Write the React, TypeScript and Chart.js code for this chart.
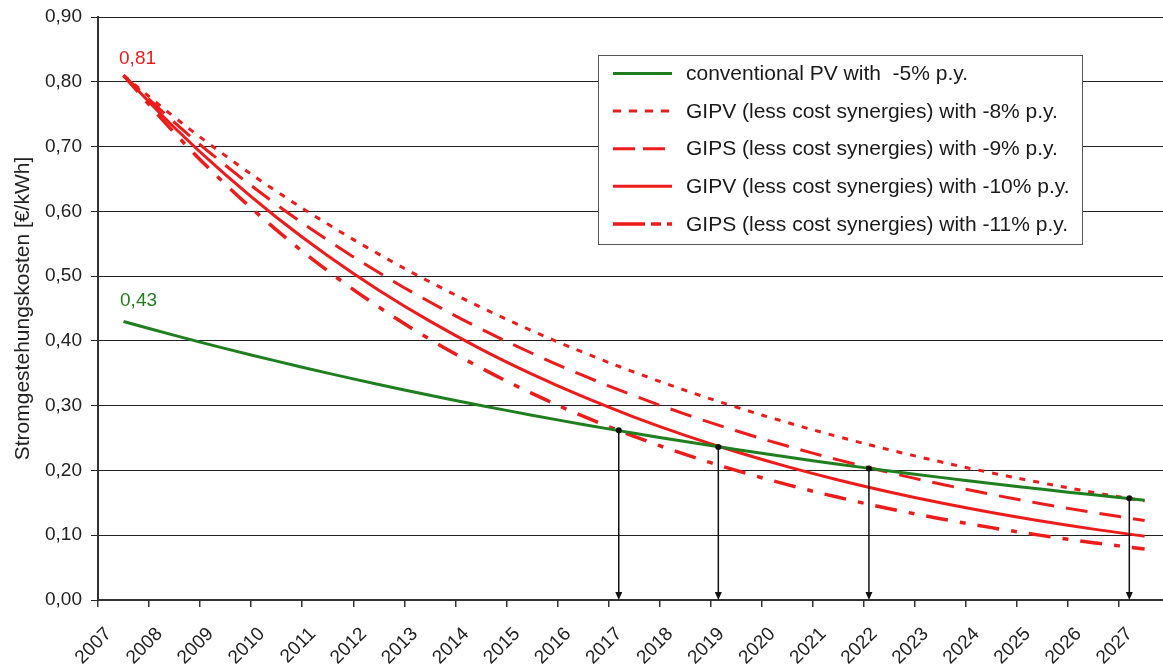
import React, { useEffect, useRef } from "react";
import { Chart, registerables } from "chart.js";

Chart.register(...registerables);

// ---------- data ----------
const years = [
  2007, 2008, 2009, 2010, 2011, 2012, 2013, 2014, 2015, 2016, 2017,
  2018, 2019, 2020, 2021, 2022, 2023, 2024, 2025, 2026, 2027,
];
const conventionalPV = [
  0.43, 0.4085, 0.3881, 0.3687, 0.3502, 0.3327, 0.3161, 0.3003, 0.2853, 0.271, 0.2575,
  0.2446, 0.2324, 0.2207, 0.2097, 0.1992, 0.1893, 0.1798, 0.1708, 0.1623, 0.1541,
];
const gipv8 = [
  0.81, 0.7452, 0.6856, 0.6307, 0.5803, 0.5339, 0.4911, 0.4519, 0.4157, 0.3824, 0.3519,
  0.3237, 0.2978, 0.274, 0.2521, 0.2319, 0.2134, 0.1963, 0.1806, 0.1661, 0.1528,
];
const gips9 = [
  0.81, 0.7371, 0.6708, 0.6104, 0.5555, 0.5055, 0.46, 0.4186, 0.3809, 0.3466, 0.3154,
  0.287, 0.2612, 0.2377, 0.2163, 0.1968, 0.1791, 0.163, 0.1483, 0.135, 0.1228,
];
const gipv10 = [
  0.81, 0.729, 0.6561, 0.5905, 0.5314, 0.4783, 0.4305, 0.3874, 0.3487, 0.3138, 0.2824,
  0.2542, 0.2288, 0.2059, 0.1853, 0.1668, 0.1501, 0.1351, 0.1216, 0.1094, 0.0985,
];
const gips11 = [
  0.81, 0.7209, 0.6416, 0.571, 0.5082, 0.4523, 0.4026, 0.3583, 0.3189, 0.2838, 0.2526,
  0.2248, 0.2001, 0.1781, 0.1585, 0.141, 0.1255, 0.1117, 0.0994, 0.0885, 0.0788,
];
const seriesLabels = [
  "conventional PV with  -5% p.y.",
  "GIPV (less cost synergies) with -8% p.y.",
  "GIPS (less cost synergies) with -9% p.y.",
  "GIPV (less cost synergies) with -10% p.y.",
  "GIPS (less cost synergies) with -11% p.y.",
];
const yAxisTitle = "Stromgestehungskosten [€/kWh]";
const yMin = 0;
const yMax = 0.9;
const yStep = 0.1;
// break-even points (intersection with conventional PV)
const breakEvenYears = [2016.7, 2018.65, 2021.6, 2026.7];
const breakEvenValues = [0.262, 0.236, 0.203, 0.157];

// ---------- styles ----------
const GREEN = "#1f7f1f";
const RED = "#ee1b1b";
const FONT = "'Liberation Sans', Arial, sans-serif";
const chartDash = [[], [6, 8], [22, 12], [], [22, 12, 6, 12]];
const legendDash = [[], [8, 8], [22, 8], [], [32, 6, 10, 6]];
const colors = [GREEN, RED, RED, RED, RED];
const widths = [3, 3, 3, 3, 3.5];

const fmt = (v: number) => v.toFixed(2).replace(".", ",");

const overlayPlugin = {
  id: "overlay",
  afterDraw(chart: any) {
    const { ctx } = chart;
    const x = chart.scales.x;
    const y = chart.scales.y;
    ctx.save();

    // break-even arrows
    const base = y.getPixelForValue(0);
    breakEvenYears.forEach((yr, i) => {
      const px = x.getPixelForValue(yr);
      const py = y.getPixelForValue(breakEvenValues[i]);
      ctx.strokeStyle = "#111";
      ctx.fillStyle = "#111";
      ctx.lineWidth = 1.5;
      ctx.beginPath();
      ctx.moveTo(px, py);
      ctx.lineTo(px, base - 7);
      ctx.stroke();
      ctx.beginPath();
      ctx.moveTo(px - 3.5, base - 8);
      ctx.lineTo(px + 3.5, base - 8);
      ctx.lineTo(px, base);
      ctx.closePath();
      ctx.fill();
      ctx.beginPath();
      ctx.arc(px, py, 3, 0, Math.PI * 2);
      ctx.fill();
    });

    // start value labels
    ctx.font = `19px ${FONT}`;
    ctx.textAlign = "center";
    ctx.textBaseline = "middle";
    const sx = x.getPixelForValue(years[0]);
    ctx.fillStyle = RED;
    ctx.fillText(fmt(gipv10[0]), sx + 14, y.getPixelForValue(gipv10[0]) - 17);
    ctx.fillStyle = GREEN;
    ctx.fillText(fmt(conventionalPV[0]), sx + 15, y.getPixelForValue(conventionalPV[0]) - 21);

    // legend
    const lx = 598, ly = 55, lw = 484, lh = 189;
    ctx.fillStyle = "#fff";
    ctx.fillRect(lx, ly, lw, lh);
    ctx.strokeStyle = "#555";
    ctx.lineWidth = 1;
    ctx.strokeRect(lx + 0.5, ly + 0.5, lw, lh);
    ctx.textAlign = "left";
    ctx.font = `21px ${FONT}`;
    seriesLabels.forEach((lab, i) => {
      const ry = 73.5 + i * 37.6;
      ctx.strokeStyle = colors[i];
      ctx.lineWidth = widths[i];
      ctx.setLineDash(legendDash[i]);
      ctx.lineCap = "butt";
      ctx.beginPath();
      ctx.moveTo(613, ry);
      ctx.lineTo(672, ry);
      ctx.stroke();
      ctx.setLineDash([]);
      ctx.fillStyle = "#1a1a1a";
      ctx.fillText(lab, 686, ry + 1);
    });
    ctx.restore();
  },
};

export default function App() {
  const ref = useRef<HTMLCanvasElement | null>(null);

  useEffect(() => {
    document.body.style.margin = "0";
    const series = [conventionalPV, gipv8, gips9, gipv10, gips11];
    const chart = new Chart(ref.current as HTMLCanvasElement, {
      type: "line",
      data: {
        datasets: series.map((vals, i) => ({
          label: seriesLabels[i],
          data: years.map((yr, j) => ({ x: yr, y: vals[j] })),
          borderColor: colors[i],
          borderWidth: widths[i],
          borderDash: chartDash[i],
          pointRadius: 0,
          tension: 0.4,
          fill: false,
        })),
      },
      options: {
        animation: false,
        responsive: true,
        maintainAspectRatio: false,
        layout: { padding: { top: 17, right: 0, left: 0, bottom: 0 } },
        plugins: { legend: { display: false }, tooltip: { enabled: false } },
        scales: {
          x: {
            type: "linear",
            min: 2006.5,
            max: 2027.36,
            afterBuildTicks: (scale: any) => {
              const t: any[] = [];
              for (let k = 0; k <= years.length * 2 - 1; k++) {
                t.push({ value: years[0] - 0.5 + k * 0.5 });
              }
              scale.ticks = t;
            },
            afterFit: (scale: any) => {
              scale.height = 71;
              scale.paddingLeft = 0;
              scale.paddingRight = 0;
            },
            grid: {
              drawOnChartArea: false,
              drawTicks: true,
              tickLength: 7,
              color: (c: any) =>
                c.tick && Number.isInteger(c.tick.value) ? "rgba(0,0,0,0)" : "#333",
              lineWidth: 1.5,
            },
            border: { display: true, color: "#333", width: 2 },
            ticks: {
              autoSkip: false,
              minRotation: 45,
              maxRotation: 45,
              padding: 16,
              labelOffset: -15,
              color: "#222",
              font: { family: FONT, size: 19 },
              callback: (v: any) => {
                const n = Number(v);
                return Number.isInteger(n) && years.includes(n) ? String(n) : "";
              },
            },
          },
          y: {
            min: yMin,
            max: yMax,
            afterFit: (scale: any) => {
              scale.width = 98;
              scale.paddingTop = 0;
              scale.paddingBottom = 0;
            },
            grid: {
              color: "#222",
              lineWidth: 1,
              drawTicks: true,
              tickLength: 7,
            },
            border: { display: true, color: "#333", width: 2 },
            ticks: {
              stepSize: yStep,
              padding: 9,
              color: "#222",
              font: { family: FONT, size: 19 },
              callback: (v: any) => fmt(Number(v)),
            },
            title: {
              display: true,
              text: yAxisTitle,
              color: "#222",
              font: { family: FONT, size: 21 },
              padding: { top: 11, bottom: 0 },
            },
          },
        },
      },
      plugins: [overlayPlugin],
    } as any);
    return () => chart.destroy();
  }, []);

  return (
    <div style={{ position: "relative", width: 1163, height: 671 }}>
      <canvas ref={ref} />
    </div>
  );
}
